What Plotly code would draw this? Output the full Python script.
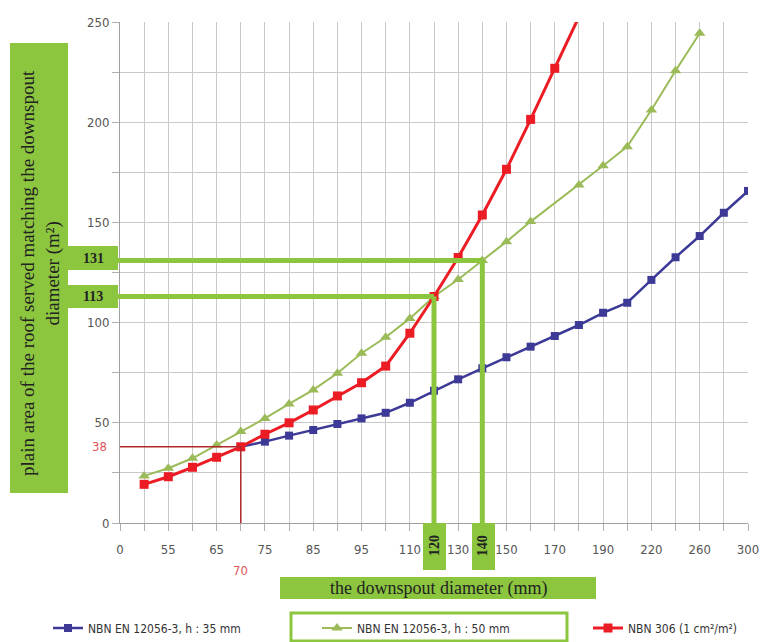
import plotly.graph_objects as go

# ---- data ----
categories = [0, 50, 55, 60, 65, 70, 75, 80, 85, 90, 95, 100, 110, 120, 130,
              140, 150, 160, 170, 180, 190, 200, 220, 240, 260, 280, 300]
tick_labels = ["0", "55", "65", "75", "85", "95", "110", "130", "150", "170",
               "190", "220", "260", "300"]
blue_35mm = [None, None, None, None, None, 38, 40.6, 43.6, 46.4, 49.4, 52.2, 55,
             60, 66, 71.7, 77.2, 82.7, 88, 93.3, 98.8, 104.9, 109.9, 121.3,
             132.6, 143.2, 154.8, 165.7]
green_50mm = [None, 23.5, 27.3, 32.3, 38.9, 45.6, 52.2, 59.4, 66.4, 74.7, 84.7,
              92.7, 102.1, 113, 121.5, 131, 140.4, 150.4, None, 168.7, 178.3,
              187.8, 206.1, 225.7, 244.4, None, None]
red_nbn306 = [None, 19.3, 23.1, 27.8, 32.8, 38, 44.3, 50, 56.4, 63.4, 70, 78.3,
              94.7, 113, 132.5, 153.7, 176.5, 201.4, 226.9, 252.6, None, None,
              None, None, None, None, None]
series_names = ["NBN EN 12056-3, h : 35 mm", "NBN EN 12056-3, h : 50 mm",
                "NBN 306 (1 cm²/m²)"]
marked_area = [113, 131]
marked_diam = [120, 140]
example_diam, example_area = 70, 38

# ---- geometry helpers (window pixel -> paper) ----
W, H = 764, 642
L, R, T = 120, 16, 22
B = H - 523
PW, PH = W - L - R, H - T - B


def px(x):
    return (x - L) / PW


def py(y):
    return (H - B - y) / PH


xi = list(range(len(categories)))
tickvals = [categories.index(int(t)) for t in tick_labels]
idx = {c: i for i, c in enumerate(categories)}

GREEN = "#8cc63f"
NARROW = "DejaVu Sans Condensed, Liberation Sans Narrow, Arial Narrow, Liberation Sans, Arial"
SERIF = "Liberation Serif, Times New Roman, serif"

fig = go.Figure()
fig.add_trace(go.Scatter(x=xi, y=blue_35mm, name=series_names[0], mode="lines+markers",
                         line=dict(color="#3c3a96", width=2.5),
                         marker=dict(symbol="square", size=8, color="#3c3a96"),
                         connectgaps=True, legend="legend"))
fig.add_trace(go.Scatter(x=xi, y=green_50mm, name=series_names[1], mode="lines+markers",
                         line=dict(color="#9bbb59", width=2),
                         marker=dict(symbol="triangle-up", size=10, color="#9bbb59"),
                         connectgaps=True, legend="legend2"))
fig.add_trace(go.Scatter(x=xi, y=red_nbn306, name=series_names[2], mode="lines+markers",
                         line=dict(color="#ec1c24", width=3),
                         marker=dict(symbol="square", size=9, color="#ec1c24"),
                         connectgaps=True, legend="legend3"))

shapes = []
# red guide lines
shapes.append(dict(type="line", xref="x", yref="y", x0=0, x1=idx[example_diam],
                   y0=example_area, y1=example_area, line=dict(color="#b0282c", width=1.5)))
shapes.append(dict(type="line", xref="x", yref="y", x0=idx[example_diam], x1=idx[example_diam],
                   y0=example_area, y1=0, line=dict(color="#b0282c", width=1.5)))
# green guide lines
for a, d in zip(marked_area, marked_diam):
    shapes.append(dict(type="line", xref="paper", yref="y", x0=px(117),
                       x1=idx[d] / (len(categories) - 1), y0=a, y1=a,
                       line=dict(color=GREEN, width=5)))
    shapes.append(dict(type="line", xref="x", yref="y", x0=idx[d], x1=idx[d],
                       y0=a, y1=0, line=dict(color=GREEN, width=5)))
# boxes
boxes = [(10, 68, 43, 493), (68, 118, 246, 270), (68, 118, 285, 308),
         (423, 446, 523, 570), (472, 495, 523, 570), (280, 596, 577, 599)]
for x0, x1, y0, y1 in boxes:
    shapes.append(dict(type="rect", xref="paper", yref="paper", x0=px(x0), x1=px(x1),
                       y0=py(y1), y1=py(y0), fillcolor=GREEN, line=dict(width=0),
                       layer="above"))
# legend highlight frame
shapes.append(dict(type="rect", xref="paper", yref="paper", x0=px(291), x1=px(567),
                   y0=py(641), y1=py(613), line=dict(color=GREEN, width=3),
                   fillcolor="rgba(0,0,0,0)"))

annotations = []


def ann(**kw):
    base = dict(showarrow=False, xanchor="center", yanchor="middle")
    base.update(kw)
    annotations.append(base)


ann(xref="paper", yref="paper", x=px(40), y=py(273),
    text="plain area of the roof served matching the downspout<br>diameter (m²)",
    textangle=-90, font=dict(family=SERIF, size=19, color="#222"))
ann(xref="paper", yref="paper", x=px(438), y=py(588),
    text="the downspout diameter (mm)", font=dict(family=SERIF, size=18, color="#222"))
for a, (yy0, yy1) in zip(marked_area, [(285, 308), (246, 270)]):
    ann(xref="paper", yref="paper", x=px(93), y=py((yy0 + yy1) / 2),
        text="<b>%d</b>" % a, font=dict(family=SERIF, size=14, color="#222"))
for d in marked_diam:
    ann(xref="x", yref="paper", x=idx[d], y=py(546), text="<b>%d</b>" % d,
        textangle=-90, font=dict(family=SERIF, size=14, color="#222"))
ann(xref="paper", yref="y", x=px(109), y=example_area, xanchor="right",
    text=str(example_area), font=dict(family=NARROW, size=13, color="#e0575a"))
ann(xref="x", yref="paper", x=idx[example_diam], y=py(570),
    text=str(example_diam), font=dict(family=NARROW, size=13, color="#e0575a"))

leg_common = dict(orientation="h", xanchor="left", y=py(628), yanchor="middle",
                  font=dict(family=NARROW, size=12, color="#333"),
                  bgcolor="rgba(0,0,0,0)", borderwidth=0)

fig.update_layout(
    width=W, height=H,
    margin=dict(l=L, r=R, t=T, b=B, autoexpand=False),
    plot_bgcolor="white", paper_bgcolor="white",
    shapes=shapes, annotations=annotations,
    showlegend=True,
    legend=dict(x=px(48), **leg_common),
    legend2=dict(x=px(317), **leg_common),
    legend3=dict(x=px(588), **leg_common),
    xaxis=dict(range=[0, len(categories) - 1], tickmode="array", tickvals=tickvals,
               ticktext=tick_labels, showgrid=True, gridcolor="#c9c9c9", gridwidth=1,
               ticks="outside", ticklen=7, tickcolor="#b0b0b0",
               minor=dict(dtick=1, tick0=0, showgrid=True, gridcolor="#c9c9c9",
                          ticks="outside", ticklen=7, tickcolor="#b0b0b0"),
               showline=True, linecolor="#a0a0a0", zeroline=False, automargin=False,
               ticklabelstandoff=7,
               tickfont=dict(family=NARROW, size=13, color="#555")),
    yaxis=dict(range=[0, 250], dtick=50, tick0=0, showgrid=True, gridcolor="#c9c9c9",
               ticks="outside", ticklen=7, tickcolor="#b0b0b0",
               minor=dict(dtick=25, showgrid=True, gridcolor="#c9c9c9",
                          ticks="outside", ticklen=7, tickcolor="#b0b0b0"),
               showline=True, linecolor="#a0a0a0", zeroline=False, automargin=False,
               tickfont=dict(family=NARROW, size=13, color="#555")),
)

fig.write_html("out.html",
               config={"displayModeBar": False},
               post_script="document.body.style.margin='0';"
                           "document.body.style.overflow='hidden';")
